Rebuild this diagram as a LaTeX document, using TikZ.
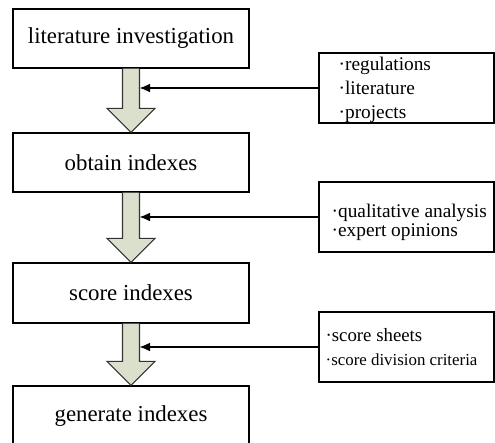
\documentclass[tikz,border=0pt]{standalone}
\usepackage{fontspec}
\setmainfont{Liberation Serif}
\usetikzlibrary{arrows.meta,calc,positioning}
\definecolor{sagegray}{rgb}{0.86,0.88,0.80}
\tikzset{
  paso/.style={
    draw=black,
    line width=.8pt,
    minimum width=4.72cm,
    minimum height=1.18cm,
    inner sep=0pt,
    font=\fontsize{13}{15}\selectfont
  },
  fuente/.style={
    draw=black,
    line width=.8pt,
    minimum width=3.5cm,
    minimum height=1.4cm,
    inner sep=0pt
  },
  lista/.style={
    align=left,
    inner sep=0pt,
    font=\fontsize{11}{13.6}\selectfont
  },
  flecha/.style={
    draw=black!80,
    line width=.6pt,
    fill=sagegray
  },
  arrow/.style={
    -{Latex[length=6pt,width=5pt]},
    line width=.7pt
  }
}
\begin{document}
\begin{tikzpicture}[x=.02cm,y=-.02cm]
\clip (0,0) rectangle (495,443);
\node[paso] (a) at (131,38.5) {literature investigation};
\node[paso] (b) at (131,162.5) {obtain indexes};
\node[paso, minimum height=1.2cm] (c) at (131,293) {score indexes};
\node[paso, minimum height=1.2cm] (d) at (131,416) {generate indexes};
% block arrows between the steps
\foreach \u/\v in {a/b,b/c,c/d}{
  \draw[flecha] ($(\u.south)+(-8.5,0)$) -- ($(\v.north)+(-8.5,-24)$)
    -- ($(\v.north)+(-24,-24)$) -- (\v.north) -- ($(\v.north)+(24,-24)$)
    -- ($(\v.north)+(8.5,-24)$) -- ($(\u.south)+(8.5,0)$);
  \coordinate (s\u) at ($(\u.south)+(8.5,0)$);
}
\node[fuente] (r1) at (406.5,88) {};
\node[fuente] (r2) at (406.5,217) {};
\node[fuente] (r3) at (406.5,347) {};
\node[lista, right=.4cm of r1.west, yshift=-.04cm] (t1)
  {·regulations\\·literature\\·projects};
\node[lista, right=.26cm of r2.west, yshift=-.1cm,
  font=\fontsize{11}{10.8}\selectfont] (t2)
  {·qualitative analysis\\·expert opinions};
\node[lista, right=.14cm of r3.west, font=\fontsize{10.7}{14}\selectfont] (t3)
  {·score sheets\\{\fontsize{9.6}{14}\selectfont ·score division criteria}};
\draw[arrow] (r1.west) -- (r1.west -| sa);
\draw[arrow] (r2.west) -- (r2.west -| sb);
\draw[arrow] (r3.west) -- (r3.west -| sc);
\end{tikzpicture}
\end{document}
